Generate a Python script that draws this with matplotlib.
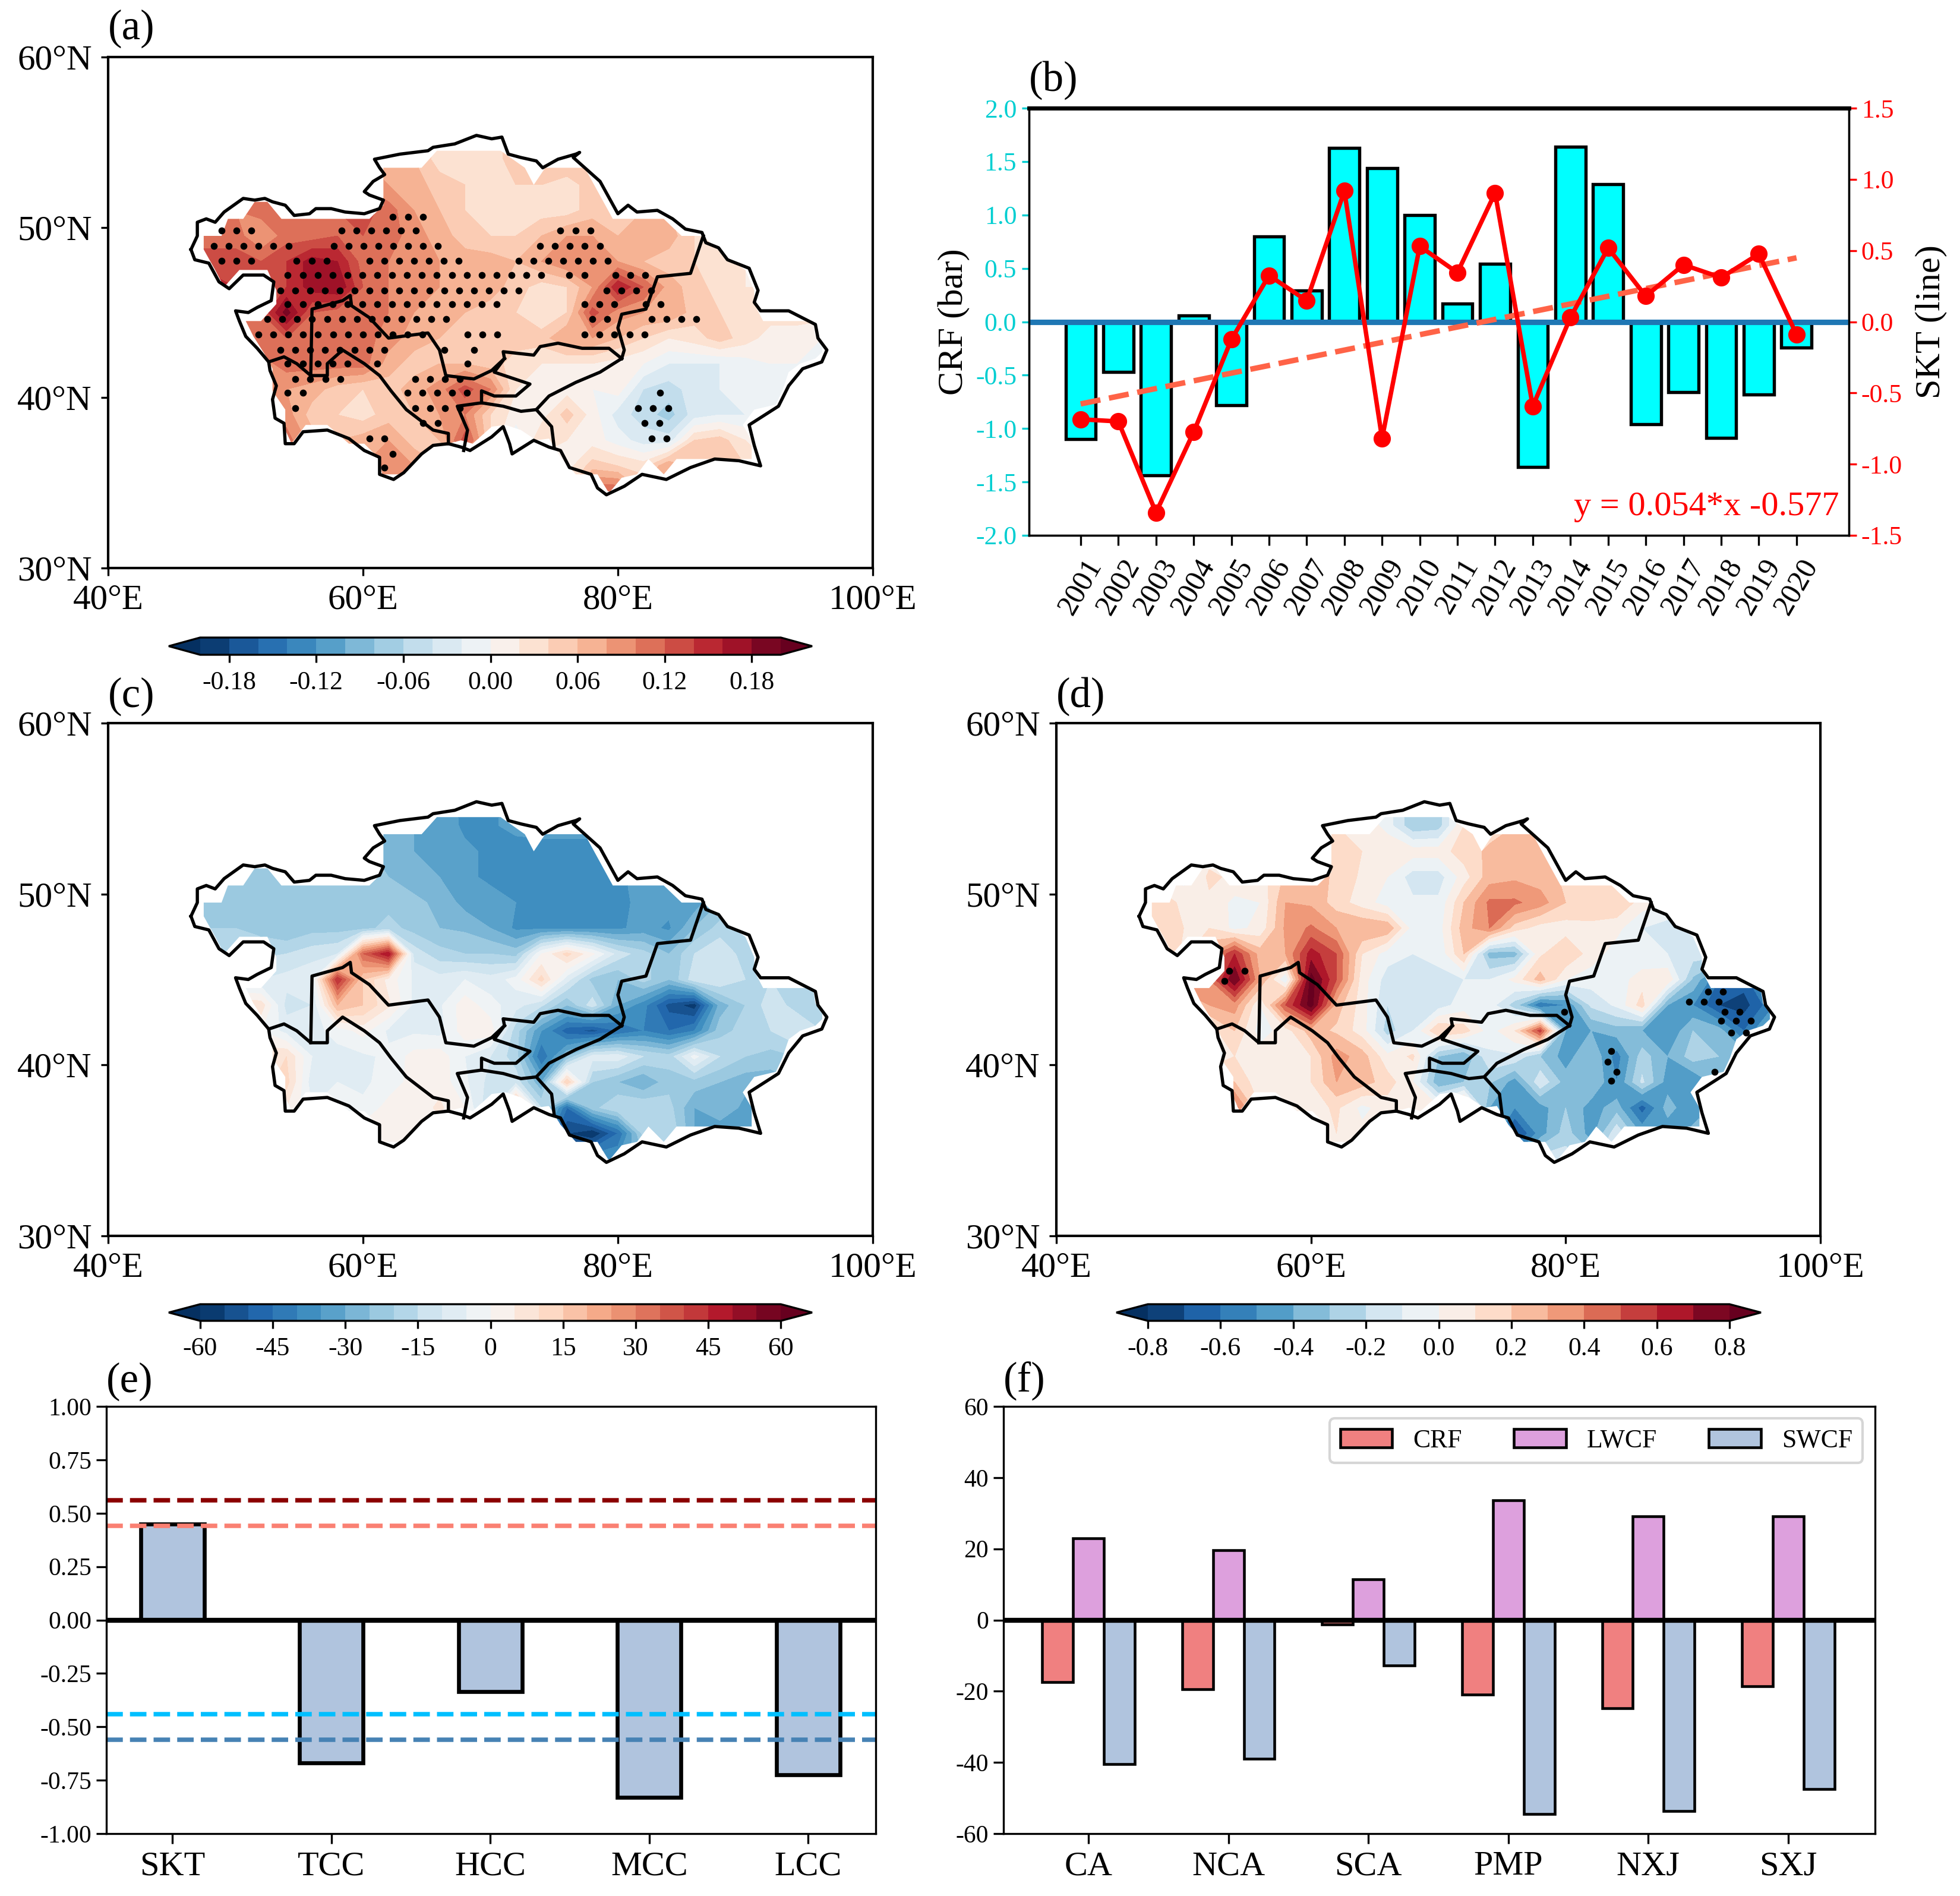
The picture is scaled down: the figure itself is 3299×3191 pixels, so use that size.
import numpy as np
import matplotlib
matplotlib.use('Agg')
import matplotlib.pyplot as plt
from matplotlib.patches import PathPatch
from matplotlib.path import Path

plt.rcParams['font.family'] = ['Liberation Serif', 'DejaVu Serif']
plt.rcParams['axes.unicode_minus'] = False

W, H = 3299, 3191

# outline of the study area
outer_lon = [46.5, 47.0, 47.0, 47.7, 48.4, 49.1, 50.6, 51.5, 52.3, 52.9, 53.9, 54.6, 55.8, 56.3, 57.5, 58.6, 60.1, 61.3,
             61.6, 60.5, 60.1, 60.8, 61.7, 61.3, 60.9, 62.9, 65.1, 65.5, 67.2, 68.9, 70.1, 70.9, 71.4, 72.4, 73.6, 74.1,
             75.3, 76.7, 77.0, 76.5, 78.6, 80.0, 80.8, 81.5, 83.1, 84.3, 85.3, 86.6, 86.9, 87.9, 88.6, 90.3, 91.0, 90.7,
             91.2, 93.4, 95.5, 95.7, 96.4, 96.0, 94.5, 93.4, 92.6, 90.3, 90.7, 91.2, 89.5, 87.6, 85.7, 83.8, 81.9, 80.5,
             79.1, 78.4, 77.9, 76.2, 75.5, 74.6, 73.4, 71.7, 71.5, 71.0, 70.1, 68.4, 67.7, 66.7, 65.5, 64.6, 63.2, 62.4,
             61.3, 61.3, 60.1, 58.9, 57.2, 55.3, 54.6, 53.9, 53.8, 53.1, 52.9, 53.2, 52.7, 52.6, 51.7, 50.8, 50.3, 50.0,
             51.0, 51.7, 52.8, 53.0, 52.2, 50.6, 49.5, 48.7, 47.9, 46.8, 46.5]
outer_lat = [48.7, 49.5, 50.3, 50.5, 50.3, 50.9, 51.7, 51.6, 51.7, 51.5, 51.3, 50.7, 50.8, 51.1, 51.1, 50.9, 50.8, 51.1,
             51.6, 51.9, 52.1, 52.7, 53.1, 53.5, 54.0, 54.3, 54.5, 54.7, 54.9, 55.4, 55.2, 55.3, 54.3, 54.1, 53.9, 53.5,
             54.0, 54.3, 54.4, 54.1, 52.7, 50.8, 51.3, 50.9, 51.0, 50.5, 49.9, 49.7, 49.1, 48.8, 48.1, 47.6, 46.3, 45.6,
             45.1, 45.1, 44.3, 43.5, 42.8, 42.1, 41.7, 40.7, 39.5, 38.4, 37.2, 36.0, 36.3, 36.4, 35.9, 35.2, 35.5, 34.8,
             34.3, 34.7, 35.5, 35.9, 36.9, 37.1, 37.5, 36.7, 37.3, 38.3, 37.7, 36.9, 37.1, 37.3, 37.2, 36.7, 35.6, 35.2,
             35.5, 36.5, 36.9, 37.6, 38.1, 38.0, 37.3, 37.3, 38.5, 38.8, 39.9, 40.7, 41.6, 42.1, 42.9, 43.6, 44.5, 45.1,
             45.0, 45.3, 45.7, 46.8, 47.2, 47.2, 46.4, 46.8, 47.9, 48.1, 48.7]

# country borders inside the outline, (lon, lat)
borders = [
    [(52.6, 42.1), (53.8, 42.4), (54.8, 42.0), (55.9, 41.3), (56.0, 45.2), (58.4, 45.7), (59.0, 46.0), (59.1, 45.4),
     (60.5, 44.7), (62.0, 43.5), (65.1, 43.8), (66.0, 42.8), (66.5, 41.3), (68.7, 41.1), (70.1, 41.6), (71.1, 42.3)],
    [(71.1, 42.3), (71.0, 42.7), (73.4, 42.5), (73.9, 43.0), (75.3, 43.2), (77.2, 42.9), (79.3, 42.9), (80.3, 42.3)],
    [(86.7, 49.5), (85.7, 47.3), (83.1, 47.1), (82.2, 45.2), (80.3, 44.9), (80.0, 44.1), (80.5, 42.8), (80.3, 42.3)],
    [(80.3, 42.3), (78.6, 41.5), (76.7, 40.9), (74.6, 40.1), (73.6, 39.3), (74.8, 38.3), (75.0, 37.1)],
    [(71.1, 42.3), (70.3, 41.5), (71.5, 41.2), (73.1, 40.8), (72.0, 40.1), (70.3, 40.1), (69.3, 40.4), (69.3, 39.7),
     (71.0, 39.5), (72.4, 39.2), (73.6, 39.3)],
    [(69.3, 39.7), (67.4, 39.5), (68.2, 38.1), (67.9, 36.9)],
    [(55.9, 41.3), (57.2, 41.3), (57.2, 42.0), (58.4, 42.8), (60.1, 42.0), (61.3, 41.3), (62.2, 40.4), (63.4, 39.3),
     (65.5, 38.1), (66.7, 37.9), (66.7, 37.3)],
]

# edge of the coloured area, same for all three maps
fill_lon = [47.5, 48.9, 49.4, 50.6, 51.5, 52.5, 53.6, 60.5, 61.6, 61.6, 64.6, 65.8, 70.8, 72.7, 73.4, 74.3, 77.4, 79.6,
            83.6, 85.0, 86.7, 88.1, 90.0, 90.7, 90.7, 91.4, 95.3, 95.5, 96.2, 95.5, 94.3, 93.4, 92.9, 92.4, 90.7, 89.8,
            90.5, 90.5, 84.6, 83.6, 82.4, 81.5, 80.3, 79.3, 78.4, 76.7, 75.5, 74.6, 73.6, 72.4, 71.2, 70.1, 68.6, 67.7,
            66.7, 65.5, 64.3, 63.2, 61.5, 61.3, 60.1, 58.9, 57.2, 55.5, 54.4, 53.9, 53.9, 52.9, 52.9, 52.5, 51.4, 50.8,
            52.0, 53.2, 53.2, 52.5, 50.3, 49.1, 48.4, 47.5]
fill_lat = [49.5, 49.5, 50.5, 50.5, 51.5, 51.5, 50.5, 50.5, 51.3, 53.5, 53.5, 54.5, 54.5, 53.5, 52.5, 53.5, 53.5, 50.5,
            50.5, 49.5, 49.5, 48.5, 47.5, 46.3, 45.5, 44.5, 44.5, 43.6, 42.8, 42.3, 42.0, 41.5, 40.4, 39.6, 39.3, 38.4,
            37.5, 36.4, 36.4, 35.5, 36.4, 35.5, 35.3, 34.4, 35.5, 35.5, 36.5, 37.6, 37.5, 38.1, 38.4, 38.3, 37.3, 37.5,
            37.3, 37.3, 36.4, 35.5, 35.5, 36.4, 37.3, 37.3, 38.4, 38.4, 37.3, 38.1, 39.3, 40.4, 41.7, 42.3, 43.6, 44.5,
            44.5, 45.5, 46.3, 47.5, 47.5, 46.5, 47.5, 48.7]

grid_lon = [46, 48, 50, 52, 54, 56, 58, 60, 62, 64, 66, 68, 70, 72, 74, 76, 78, 80, 82, 84, 86, 88, 90, 92, 94, 96]
grid_lat = [34.5, 36, 37.5, 39, 40.5, 42, 43.5, 45, 46.5, 48, 49.5, 51, 52.5, 54, 55.5]

# panel a, CRF/SKT regression, in units of 0.01
field_a = [
    [5, 5, 5, 5, 5, 5, 8, 8, 8, 8, 6, 4, 2, 2, 2, 3, 12, 12, 6, 8, 5, 5, 4, 2, 1, 1],
    [5, 5, 5, 5, 6, 7, 8, 8, 10, 8, 6, 6, 4, 1, 0, 1, 5, 4, 3, 8, 5, 5, 4, 2, 1, 1],
    [8, 8, 8, 9, 11, 7, 6, 7, 8, 5, 6, 13, 4, -2, 4, 2, 1, -1, -3, -3, 4, 5, 2, 1, 1, 1],
    [9, 9, 9, 9, 9, 5, 4, 3, 5, 6, 8, 10, 4, 1, 1, 5, 1, -3, -5, -7, -3, -2, -2, 0, 0, 0],
    [8, 8, 8, 8, 8, 7, 5, 4, 5, 7, 9, 13, 10, 2, 1, 1, 0, 1, -4, -5, -3, -2, -1, 0, 0, 0],
    [9, 9, 9, 9, 11, 11, 11, 11, 7, 5, 6, 6, 5, 3, 2, 2, 2, 1, 0, -2, -2, -2, -1, 0, 0, 0],
    [10, 10, 10, 11, 12, 12, 11, 11, 9, 7, 6, 6, 6, 5, 5, 8, 8, 6, 4, 2, 3, 5, 3, 1, 1, 0],
    [12, 12, 12, 12, 19, 12, 11, 11, 10, 8, 7, 6, 5, 4, 2, 4, 13, 9, 8, 8, 5, 4, 3, 3, 3, 3],
    [15, 15, 14, 12, 14, 17, 18, 12, 10, 9, 8, 7, 7, 5, 3, 4, 8, 16, 12, 7, 5, 3, 2, 2, 2, 2],
    [13, 13, 13, 12, 14, 17, 16, 11, 10, 9, 8, 7, 7, 6, 8, 10, 10, 8, 6, 5, 4, 3, 2, 2, 2, 2],
    [11, 11, 11, 8, 11, 11, 12, 12, 11, 9, 7, 5, 4, 4, 6, 8, 8, 6, 7, 7, 4, 3, 3, 3, 3, 3],
    [10, 10, 10, 11, 11, 11, 12, 13, 11, 8, 6, 4, 3, 2, 3, 3, 5, 6, 6, 6, 4, 3, 3, 3, 3, 3],
    [10, 10, 10, 10, 10, 10, 10, 10, 8, 7, 5, 4, 3, 4, 4, 3, 5, 6, 6, 6, 4, 3, 3, 3, 3, 3],
    [8, 8, 8, 8, 8, 8, 8, 8, 6, 6, 3, 2, 3, 5, 5, 6, 7, 6, 5, 4, 4, 3, 3, 3, 3, 3],
    [8, 8, 8, 8, 8, 8, 8, 8, 6, 6, 3, 2, 3, 5, 5, 6, 7, 6, 5, 4, 4, 3, 3, 3, 3, 3],
]

# panel c
field_c = [
    [0, 0, 0, 0, 0, 0, 2, 3, 3, 3, 2, 2, 0, -5, -25, -45, -35, -35, -25, -15, -25, -30, -30, -25, -25, -25],
    [0, 0, 0, 0, 3, 2, 2, 3, 3, 2, 2, 2, 0, -10, -30, -55, -60, -45, -18, -15, -30, -35, -35, -30, -25, -25],
    [5, 5, 5, 5, 5, -5, -3, -4, 2, 2, 6, 0, -15, 25, -15, -45, -22, -15, -15, -18, -30, -25, -32, -30, -25, -25],
    [8, 8, 8, 8, 12, -8, -5, -6, -3, 2, 3, -4, -12, -12, -30, 15, -20, -25, -30, -22, -22, -25, -28, -28, -25, -25],
    [8, 8, 8, 8, 10, -5, -7, -6, -4, 2, 3, -5, -10, -18, -45, -25, -8, -7, -15, -18, -3, -15, -20, -22, -20, -20],
    [0, 0, 0, 0, -7, -7, -3, 2, -6, -6, -7, 3, 3, -18, -35, -48, -52, -45, -40, -45, -40, -22, -18, -15, -10, -15],
    [10, 10, 10, 8, -12, -10, 20, 15, 6, -6, -6, 3, -3, -8, -14, -25, -12, -30, -38, -52, -58, -28, -20, -12, -17, -15],
    [-10, -10, -10, -10, -8, -6, 45, 15, 3, -6, -8, -5, -8, -3, 12, -8, -22, -25, -18, -25, -12, -10, -15, -15, -15, -15],
    [-18, -18, -18, -16, -15, -12, -10, 35, 50, -12, -18, -20, -20, -22, 0, 12, 1, -12, -18, -25, -15, -10, -18, -18, -18, -18],
    [-20, -20, -20, -22, -25, -22, -22, -22, -18, -22, -25, -26, -30, -36, -36, -36, -36, -36, -33, -36, -25, -18, -18, -18, -18, -18],
    [-22, -22, -22, -22, -22, -22, -22, -23, -22, -24, -26, -32, -33, -35, -38, -39, -38, -36, -34, -33, -33, -25, -20, -20, -20, -20],
    [-22, -22, -22, -22, -22, -22, -22, -22, -25, -27, -30, -34, -36, -39, -38, -38, -39, -36, -33, -31, -30, -25, -20, -20, -20, -20],
    [-24, -24, -24, -24, -24, -24, -24, -24, -27, -30, -31, -34, -36, -38, -36, -36, -36, -35, -33, -31, -30, -25, -20, -20, -20, -20],
    [-24, -24, -24, -24, -24, -24, -24, -24, -27, -30, -32, -36, -36, -33, -34, -34, -34, -34, -33, -31, -30, -25, -20, -20, -20, -20],
    [-24, -24, -24, -24, -24, -24, -24, -24, -27, -30, -32, -36, -36, -33, -34, -34, -34, -34, -33, -31, -30, -25, -20, -20, -20, -20],
]

# panel d, in units of 0.01
field_d = [
    [0, 0, 0, 0, 0, 0, 5, 5, 5, 5, 3, 3, 3, 0, -15, -45, -15, -15, -25, -10, -35, -35, -35, -35, -35, -35],
    [0, 0, 0, 0, 5, 5, 5, 5, 10, 3, 3, 3, 3, 0, -35, -75, -45, -25, -45, -12, -42, -48, -35, -35, -35, -35],
    [40, 40, 40, 40, 45, 10, 10, 5, 12, -3, 5, 5, 3, 30, -40, -50, -45, -30, -45, -35, -65, -35, -50, -35, -35, -35],
    [50, 50, 50, 50, 20, 3, 5, 10, 30, 25, 15, 0, -38, -30, -28, -45, -12, -35, -30, -50, -18, -45, -50, -35, -35, -35],
    [-20, -20, -20, -20, 10, 5, 8, 10, 35, 25, 3, 12, -30, -40, -12, -12, -30, -45, -30, -55, -25, -40, -25, -30, -35, -35],
    [5, 5, 5, 5, 20, -5, 5, 25, 18, 5, -25, -10, 20, 15, -5, 10, 55, -40, -40, -35, -40, -50, -30, -35, -60, -35],
    [20, 20, 20, 30, 35, 0, 50, 85, 25, 5, -20, -12, -15, -5, -5, -25, -60, -50, -18, -8, 15, -40, -50, -70, -75, -55],
    [40, 40, 40, 40, 80, 30, -10, 85, 50, 5, -15, -12, -12, -10, -10, 3, 25, 0, -5, -5, 5, 8, -32, -60, -65, -35],
    [35, 35, 5, 30, 60, 25, 30, 65, 50, 10, -5, -10, -8, 20, -35, -35, 8, 20, 5, -5, -8, -10, -15, -15, -15, -15],
    [15, 15, 10, 10, -3, 3, 32, 42, 30, 30, 28, -5, -5, 25, 40, 15, 5, 5, 8, 3, -10, -15, -12, -12, -12, -12],
    [15, 15, 8, 8, -3, 0, 30, 28, 15, 5, -5, -8, -8, 20, 42, 42, 35, 20, 15, 20, 5, 0, 0, 0, 0, 0],
    [5, 5, -5, 12, 8, 5, 22, 25, 18, 8, 0, -15, -15, 5, 25, 28, 25, 18, 15, 12, 5, 0, 0, 0, 0, 0],
    [5, 5, 5, 5, 5, 5, 15, 18, 18, 10, 10, 5, 5, 15, 22, 28, 28, 20, 15, 12, 5, 0, 0, 0, 0, 0],
    [5, 5, 5, 5, 5, 5, 10, 10, 10, 10, -5, -28, -25, 10, 15, 20, 25, 20, 15, 12, 5, 0, 0, 0, 0, 0],
    [5, 5, 5, 5, 5, 5, 10, 10, 10, 10, -5, -28, -25, 10, 15, 20, 25, 20, 15, 12, 5, 0, 0, 0, 0, 0],
]

# significant points: lat, first lon, last lon of each run
dots_a = [(50.6, 62.35, 64.7), (49.8, 48.9, 51.3), (49.8, 58.3, 64.1), (49.8, 75.5, 78.0),
          (48.9, 48.3, 54.3), (48.9, 57.7, 65.9), (48.9, 73.9, 78.6), (48.05, 48.9, 51.3), (48.05, 54.8, 58.2),
          (48.05, 60.5, 67.6), (48.05, 72.2, 79.3), (47.2, 54.1, 74.1), (47.2, 76.2, 77.7), (47.2, 79.8, 82.2),
          (46.3, 53.5, 72.3), (46.3, 79.1, 82.65), (45.5, 54.1, 70.5), (45.5, 77.4, 79.8), (45.5, 82.2, 83.4),
          (44.6, 52.5, 67.6), (44.6, 78.0, 79.2), (44.6, 82.65, 86.2), (43.7, 51.8, 64.7), (43.7, 68.2, 70.5),
          (43.7, 77.4, 82.2), (42.8, 53.5, 61.7), (42.8, 66.4, 66.4), (42.8, 68.7, 68.7), (42.0, 54.1, 58.9),
          (42.0, 61.1, 61.1), (42.0, 68.2, 68.2), (41.1, 54.7, 58.3), (41.1, 64.1, 67.7), (40.3, 54.1, 55.3),
          (40.3, 63.5, 68.2), (40.3, 83.3, 83.3), (39.4, 54.7, 54.7), (39.4, 64.1, 67.6), (39.4, 81.6, 83.85),
          (38.5, 64.7, 65.9), (38.5, 82.1, 83.3), (37.6, 60.5, 61.7), (37.6, 82.65, 83.85), (36.7, 62.35, 62.35),
          (35.9, 61.7, 61.7)]
dots_d = [(45.5, 53.6, 55.2), (44.9, 53.2, 54.0), (44.3, 91.2, 93.3), (43.7, 89.7, 92.6), (43.1, 79.9, 79.9),
          (43.1, 92.5, 94.5), (42.6, 92.2, 95.1), (41.9, 93.0, 94.7), (40.8, 83.6, 84.3), (40.2, 83.3, 84.3),
          (39.6, 84.0, 84.0), (39.6, 91.7, 92.2), (39.06, 83.6, 83.6)]

years = list(range(2001, 2021))
crf_bar = [-1.1, -0.47, -1.44, 0.06, -0.78, 0.8, 0.29, 1.63, 1.44, 1.0, 0.17, 0.54, -1.36, 1.64, 1.29, -0.96, -0.66,
           -1.09, -0.68, -0.24]
skt_line = [-0.685, -0.70, -1.34, -0.775, -0.125, 0.325, 0.148, 0.918, -0.82, 0.53, 0.345, 0.905, -0.593, 0.03, 0.518,
            0.18, 0.40, 0.31, 0.476, -0.09]
trend_slope = 0.054
trend_icpt = -0.577

cloud_names = ['SKT', 'TCC', 'HCC', 'MCC', 'LCC']
cloud_corr = [0.45, -0.67, -0.335, -0.83, -0.725]
sig_levels = [0.56, 0.44, -0.44, -0.56]
sig_colors = ['darkred', 'salmon', 'deepskyblue', 'steelblue']

regions = ['CA', 'NCA', 'SCA', 'PMP', 'NXJ', 'SXJ']
crf_reg = [-17.4, -19.4, -1.2, -21, -24.8, -18.6]
lwcf_reg = [23, 19.6, 11.5, 33.7, 29.1, 29.1]
swcf_reg = [-40.4, -39, -12.7, -54.5, -53.7, -47.4]


def px_axes(x0, x1, y0, y1):
    # pixel box of the reference to a figure axes
    return fig.add_axes([x0 / W, 1 - y1 / H, (x1 - x0) / W, (y1 - y0) / H])


def draw_map(x0, x1, y0, y1, field, scale, levels, dots=None):
    ax = px_axes(x0, x1, y0, y1)
    cs = ax.contourf(grid_lon, grid_lat, np.array(field) * scale, levels=levels, cmap='RdBu_r', extend='both')
    clip = PathPatch(Path(np.column_stack([fill_lon, fill_lat])), transform=ax.transData, fc='none', ec='none')
    ax.add_patch(clip)
    cs.set_clip_path(clip)
    ax.plot(outer_lon, outer_lat, color='k', lw=1.3)
    for line in borders:
        ax.plot([p[0] for p in line], [p[1] for p in line], color='k', lw=1.3)
    if dots:
        for lat, lon0, lon1 in dots:
            lons = np.arange(lon0, lon1 + 0.1, 1.17)
            ax.plot(lons, [lat] * len(lons), 'o', color='k', ms=2.8, mew=0)
    ax.set_xlim(40, 100)
    ax.set_ylim(30, 60)
    ax.set_xticks([40, 60, 80, 100])
    ax.set_xticklabels(['40°E', '60°E', '80°E', '100°E'], fontsize=14.2)
    ax.set_yticks([30, 40, 50, 60])
    ax.set_yticklabels(['30°N', '40°N', '50°N', '60°N'], fontsize=14.2)
    ax.tick_params(length=3, width=0.8, pad=3.5)
    for s in ax.spines.values():
        s.set_linewidth(1.0)
    return ax, cs


def draw_cbar(cs, x0, x1, y0, y1, ticks, fmt):
    cax = px_axes(x0, x1, y0, y1)
    cb = fig.colorbar(cs, cax=cax, orientation='horizontal', extendfrac=0.054, drawedges=False)
    cb.set_ticks(ticks)
    cb.set_ticklabels([fmt % t for t in ticks])
    cb.ax.tick_params(labelsize=10.5, length=3, width=0.8, pad=3.5)
    cb.outline.set_linewidth(0.8)


fig = plt.figure(figsize=(W / 300, H / 300), dpi=300)

lev_a = np.arange(-20, 21, 2) / 100
lev_c = np.arange(-60, 61, 5)
lev_d = np.arange(-8, 9) / 10

ax_a, cs_a = draw_map(182, 1469, 96, 956, field_a, 0.01, lev_a, dots_a)
ax_c, cs_c = draw_map(182, 1469, 1217, 2080, field_c, 1, lev_c)
ax_d, cs_d = draw_map(1778, 3064, 1217, 2080, field_d, 0.01, lev_d, dots_d)

draw_cbar(cs_a, 284, 1367, 1073, 1102, [-0.18, -0.12, -0.06, 0, 0.06, 0.12, 0.18], '%.2f')
draw_cbar(cs_c, 284, 1367, 2195, 2223, [-60, -45, -30, -15, 0, 15, 30, 45, 60], '%d')
draw_cbar(cs_d, 1879, 2964, 2195, 2223, [-0.8, -0.6, -0.4, -0.2, 0, 0.2, 0.4, 0.6, 0.8], '%.1f')

# panel b
ax_b = px_axes(1732, 3112, 182, 901)
ax_b.bar(years, crf_bar, width=0.8, color='cyan', edgecolor='k', linewidth=1.3)
ax_b.axhline(0, color='#1f77b4', lw=2.2, zorder=4)
ax_b.set_xlim(1999.63, 2021.39)
ax_b.set_ylim(-2, 2)
ax_b.set_yticks(np.arange(-2, 2.1, 0.5))
ax_b.set_yticklabels(['%.1f' % v for v in np.arange(-2, 2.1, 0.5)])
ax_b.set_xticks(years)
ax_b.set_xticklabels(years, rotation=60, fontsize=12)
ax_b.tick_params(axis='y', colors='darkturquoise', labelsize=10.5, length=3, pad=2)
ax_b.tick_params(axis='x', length=4)
ax_b.set_ylabel('CRF (bar)', fontsize=14.5, labelpad=2)
ax_r = ax_b.twinx()
trend = [trend_slope * i + trend_icpt for i in range(len(years))]
ax_r.plot(years, trend, '--', color='tomato', lw=2.2)
ax_r.plot(years, skt_line, '-o', color='red', lw=1.8, ms=6)
ax_r.set_ylim(-1.5, 1.5)
ax_r.set_yticks(np.arange(-1.5, 1.6, 0.5))
ax_r.set_yticklabels(['%.1f' % v for v in np.arange(-1.5, 1.6, 0.5)])
ax_r.tick_params(axis='y', colors='red', labelsize=10.5, length=3, pad=2)
ax_r.set_ylabel('SKT (line)', fontsize=14.5, labelpad=5)
ax_r.text(0.988, 0.03, 'y = 0.054*x -0.577', color='red', fontsize=14, ha='right', va='bottom', transform=ax_r.transAxes)
ax_b.spines['top'].set_linewidth(1.6)
ax_r.spines['top'].set_linewidth(1.6)

# panel e
ax_e = px_axes(179, 1474, 2367, 3086)
ax_e.bar(range(5), cloud_corr, width=0.4, color='lightsteelblue', edgecolor='k', linewidth=1.6)
for lev, col in zip(sig_levels, sig_colors):
    ax_e.axhline(lev, color=col, ls='--', lw=1.8)
ax_e.axhline(0, color='k', lw=2)
ax_e.set_xlim(-0.415, 4.425)
ax_e.set_ylim(-1, 1)
ax_e.set_yticks(np.arange(-1, 1.01, 0.25))
ax_e.set_yticklabels(['%.2f' % v for v in np.arange(-1, 1.01, 0.25)], fontsize=10)
ax_e.set_xticks(range(5))
ax_e.set_xticklabels(cloud_names, fontsize=14)
ax_e.tick_params(axis='y', length=4, pad=2)
ax_e.tick_params(axis='x', length=4, pad=3)

# panel f
ax_f = px_axes(1689, 3156, 2367, 3086)
xpos = np.arange(6)
ax_f.bar(xpos - 0.22, crf_reg, width=0.22, color='lightcoral', edgecolor='k', linewidth=1.1, label='CRF')
ax_f.bar(xpos, lwcf_reg, width=0.22, color='plum', edgecolor='k', linewidth=1.1, label='LWCF')
ax_f.bar(xpos + 0.22, swcf_reg, width=0.22, color='lightsteelblue', edgecolor='k', linewidth=1.1, label='SWCF')
ax_f.axhline(0, color='k', lw=2)
ax_f.set_xlim(-0.607, 5.62)
ax_f.set_ylim(-60, 60)
ax_f.set_yticks(range(-60, 61, 20))
ax_f.tick_params(axis='y', labelsize=10, length=4, pad=2)
ax_f.set_xticks(xpos)
ax_f.set_xticklabels(regions, fontsize=14)
ax_f.tick_params(axis='x', length=4, pad=3)
ax_f.legend(loc='upper right', ncol=3, fontsize=10.5, bbox_to_anchor=(0.986, 0.972), borderaxespad=0.0,
            handlelength=2.0, columnspacing=2.0, edgecolor='#cccccc')

# panel letters
for label, px, py in [('(a)', 182, 48), ('(b)', 1732, 135), ('(c)', 182, 1172), ('(d)', 1778, 1172),
                      ('(e)', 179, 2325), ('(f)', 1689, 2325)]:
    fig.text(px / W, 1 - py / H, label, fontsize=17, ha='left', va='center')

fig.savefig('out.png', dpi=300)
